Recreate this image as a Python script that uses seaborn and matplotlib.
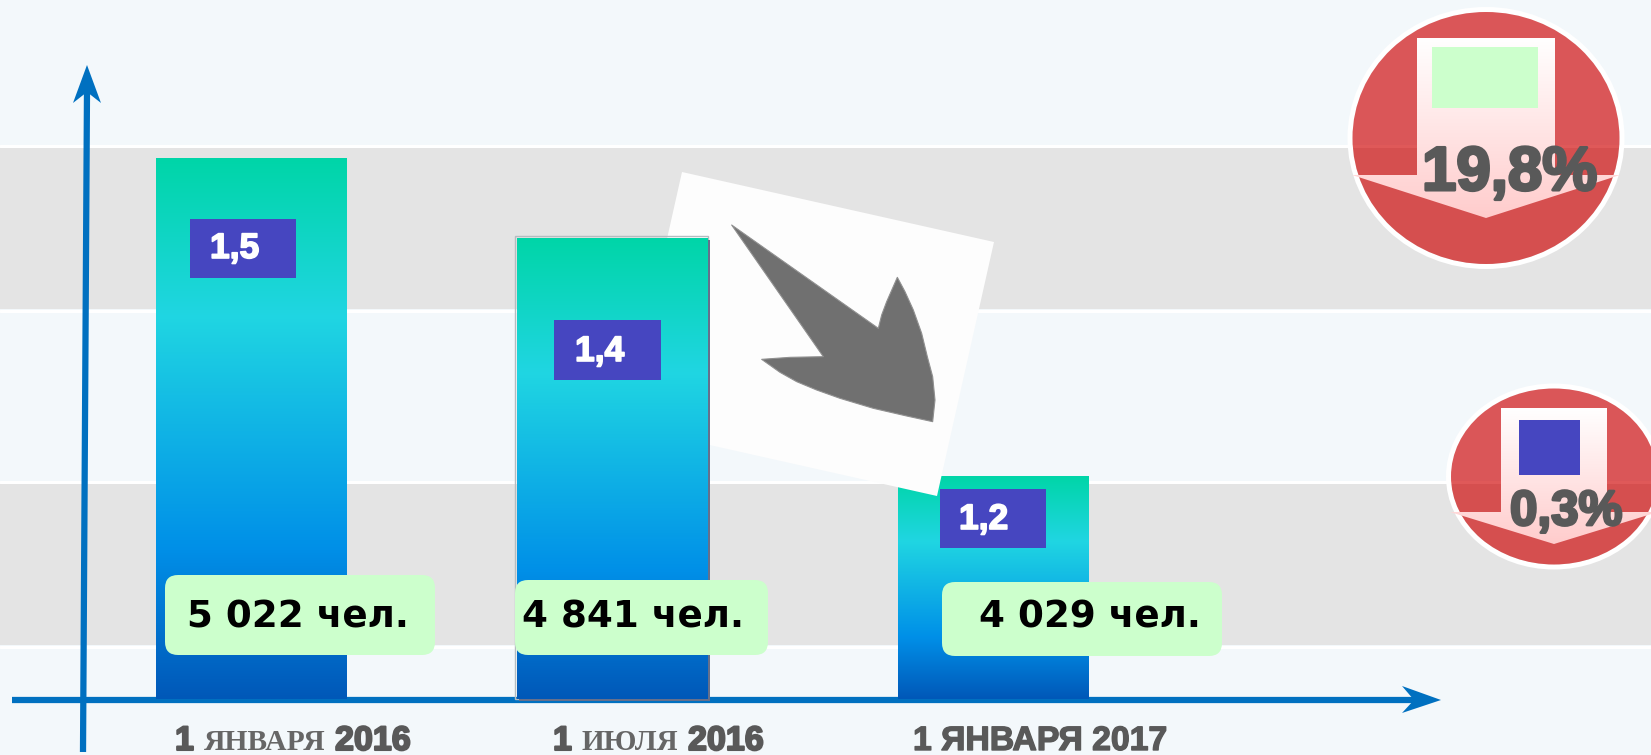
import numpy as np
import pandas as pd
import seaborn as sns
import matplotlib
matplotlib.use("Agg")
import matplotlib.pyplot as plt
import matplotlib.patheffects as pe
from matplotlib.colors import LinearSegmentedColormap
from matplotlib.patches import Polygon, Rectangle, Ellipse, FancyBboxPatch

# values
dates = ["1 ЯНВАРЯ 2016", "1 ИЮЛЯ 2016", "1 ЯНВАРЯ 2017"]
people = ["5 022 чел.", "4 841 чел.", "4 029 чел."]
shares = ["1,5", "1,4", "1,2"]
bar_heights = [541, 461, 223]  # bars are not to scale with the numbers
drops = ["19,8%", "0,3%"]

# layout, figure pixels
W, H = 1651, 755
BASE = 699
bar_centers = [251.5, 612.5, 993]
BAR_W = 191

BG = "#f3f8fb"
BAND = "#e4e4e4"
GREEN = "#ccffcc"
PURPLE = "#4646c0"
BLUE = "#0070c0"
DARK = "#595959"
SANS = "Liberation Sans"
SERIF = "Liberation Serif"

sns.set_theme(style="white")


def Y(py):
    # picture y (down) to axes y (up from the baseline)
    return BASE - py


def poly(points, **kw):
    return Polygon([(x, Y(y)) for x, y in points], closed=True, **kw)


def heavy(x, y, s, size, color=DARK, stroke=1.5, ha="left", z=20):
    # no Arial Black here, so thicken the bold face
    ax.text(x, Y(y), s, fontsize=size, family=SANS, fontweight="bold", color=color,
            ha=ha, va="baseline", zorder=z,
            path_effects=[pe.withStroke(linewidth=stroke, foreground=color)])


fig = plt.figure(figsize=(W / 100, H / 100), dpi=100, facecolor=BG)
ax = fig.add_axes([0, 0, 1, 1])
ax.set_facecolor(BG)

# bars
df = pd.DataFrame({"x": bar_centers, "h": bar_heights})
sns.barplot(data=df, x="x", y="h", native_scale=True, width=BAR_W / 361,
            color="#00a0e0", linewidth=0, edgecolor="none", ax=ax, zorder=5)

# stripes
for top, bottom in [(147, 309), (483, 645)]:
    ax.add_patch(Rectangle((0, Y(bottom)), W, bottom - top, fc=BAND, ec="none", zorder=1))
for y in [145.5, 310.5, 481.5, 646.5]:
    ax.plot([0, W], [Y(y), Y(y)], color="white", lw=2.2, zorder=1.5)

# axes arrows
ax.plot([12, 1416], [Y(700), Y(700)], color=BLUE, lw=4.5, solid_capstyle="butt", zorder=3)
ax.add_patch(poly([(1402, 686), (1441, 700), (1402, 713), (1414, 700)], fc=BLUE, ec="none", zorder=3))
ax.plot([83, 87], [Y(752), Y(90)], color=BLUE, lw=4.5, solid_capstyle="butt", zorder=3)
ax.add_patch(poly([(87, 65), (101, 103), (87, 92), (73, 103)], fc=BLUE, ec="none", zorder=3))

# gradient bars
cmap_bar = LinearSegmentedColormap.from_list(
    "bar", [(0, "#00d5a8"), (0.29, "#20d6e2"), (0.72, "#0090e8"), (1, "#0058b8")])
grad = np.linspace(0, 1, 256).reshape(-1, 1)
bar_z = [5, 9, 5]
for p, z in zip(ax.patches[:3], bar_z):
    im = ax.imshow(grad, cmap=cmap_bar, aspect="auto", zorder=z,
                   extent=[p.get_x(), p.get_x() + p.get_width(), 0, p.get_height()])
    p.set_zorder(z - 0.5)
    im.set_clip_path(p)

# frame around the middle bar
bar2 = ax.patches[1]
ax.add_patch(Rectangle((bar2.get_x() - 2, 0), bar2.get_width() + 2, bar2.get_height() + 2,
                       fc="none", ec="#b4bcc0", lw=1, zorder=8))
ax.add_patch(Rectangle((bar2.get_x() + 2, -2), bar2.get_width(), bar2.get_height(),
                       fc="#66708c", ec="none", zorder=8))

# white card with the grey arrow
ax.add_patch(poly([(682, 172), (994, 242), (937, 496), (625, 426)], fc="#fdfdfd", ec="none", zorder=7))
arrow_pts = [(275, 195), (715, 505), (725, 465), (740, 425), (772, 352), (795, 395), (820, 450),
             (845, 520), (862, 590), (878, 650), (885, 720), (878, 785), (800, 768), (700, 745),
             (600, 715), (530, 690), (470, 665), (420, 637), (365, 598), (450, 592), (550, 590)]
ax.add_patch(poly([(640 + x / 3, 160 + y / 3) for x, y in arrow_pts], fc="#707070", ec="#909090",
                  lw=0.8, joinstyle="round", zorder=7.5))

# purple share boxes
share_boxes = [(190, 296, 219, 278), (554, 661, 320, 380), (940, 1046, 489, 548)]
share_text = [(210, 258), (575, 361), (959, 529)]
for s, (x0, x1, y0, y1), (tx, ty) in zip(shares, share_boxes, share_text):
    ax.add_patch(Rectangle((x0, Y(y1)), x1 - x0, y1 - y0, fc=PURPLE, ec="none", zorder=10))
    heavy(tx, ty, s, 25.5, color="white", stroke=1.2)

# green people labels
people_boxes = [(165, 435, 575, 655), (515, 768, 580, 655), (942, 1222, 582, 656)]
people_text = [(187, 627), (522, 627), (979, 627)]
for s, (x0, x1, y0, y1), (tx, ty) in zip(people, people_boxes, people_text):
    ax.add_patch(FancyBboxPatch((x0, Y(y1)), x1 - x0, y1 - y0, boxstyle="round,pad=0,rounding_size=13",
                                fc=GREEN, ec="none", zorder=12))
    ax.text(tx, Y(ty), s, fontsize=26.8, family="DejaVu Sans", fontweight="bold", color="black",
            ha="left", va="baseline", zorder=13)

# date labels, the first two mix faces
heavy(175, 750, dates[0].split()[0], 24.5)
ax.text(204, Y(750), dates[0].split()[1], fontsize=21.3, family=SERIF, fontweight="bold", color="#666666",
        va="baseline", zorder=20)
heavy(335, 750, dates[0].split()[2], 24.5)
heavy(553, 750, dates[1].split()[0], 24.5)
ax.text(582, Y(750), dates[1].split()[1], fontsize=21, family=SERIF, fontweight="bold", color="#666666",
        va="baseline", zorder=20)
heavy(688, 750, dates[1].split()[2], 24.5)
heavy(913, 750, dates[2], 24.3, stroke=1)

# red badges
cmap_pink = LinearSegmentedColormap.from_list("pink", ["#ffffff", "#ffcccc"])
badges = [
    dict(cx=1486, cy=138, w=267, h=252, shaft=(1417, 1555), top=38, sh=175, wing=(1352, 1620), tip=218,
         rect=(1432, 1538, 47, 108), rc=GREEN, text=drops[0], tx=1422, ty=190, size=44.5, stroke=2.2),
    dict(cx=1554, cy=476.5, w=206, h=176, shaft=(1501, 1607), top=408, sh=512, wing=(1450, 1658), tip=544,
         rect=(1519, 1580, 420, 475), rc=PURPLE, text=drops[1], tx=1510, ty=525, size=35.5, stroke=2),
]
for b in badges:
    ax.add_patch(Ellipse((b["cx"], Y(b["cy"])), b["w"] + 5, b["h"] + 5, fc="none", ec="white", lw=3.6, zorder=14))
    ax.add_patch(Ellipse((b["cx"], Y(b["cy"])), b["w"], b["h"], fc=(206 / 255, 0, 0, 0.65), ec="none", zorder=14))
    shape = poly([(b["shaft"][0], b["top"]), (b["shaft"][1], b["top"]), (b["shaft"][1], b["sh"]),
                  (b["wing"][1], b["sh"]), (b["cx"], b["tip"]), (b["wing"][0], b["sh"]),
                  (b["shaft"][0], b["sh"])], fc="none", ec="none", zorder=15)
    ax.add_patch(shape)
    im = ax.imshow(grad, cmap=cmap_pink, aspect="auto", zorder=15,
                   extent=[b["wing"][0], b["wing"][1], Y(b["tip"]), Y(b["top"])])
    im.set_clip_path(shape)
    x0, x1, y0, y1 = b["rect"]
    ax.add_patch(Rectangle((x0, Y(y1)), x1 - x0, y1 - y0, fc=b["rc"], ec="none", zorder=16))
    heavy(b["tx"], b["ty"], b["text"], b["size"], stroke=b["stroke"])

ax.set_xlim(0, W)
ax.set_ylim(BASE - H, BASE)
ax.set_axis_off()

fig.savefig("out.png", dpi=100, facecolor=BG)
